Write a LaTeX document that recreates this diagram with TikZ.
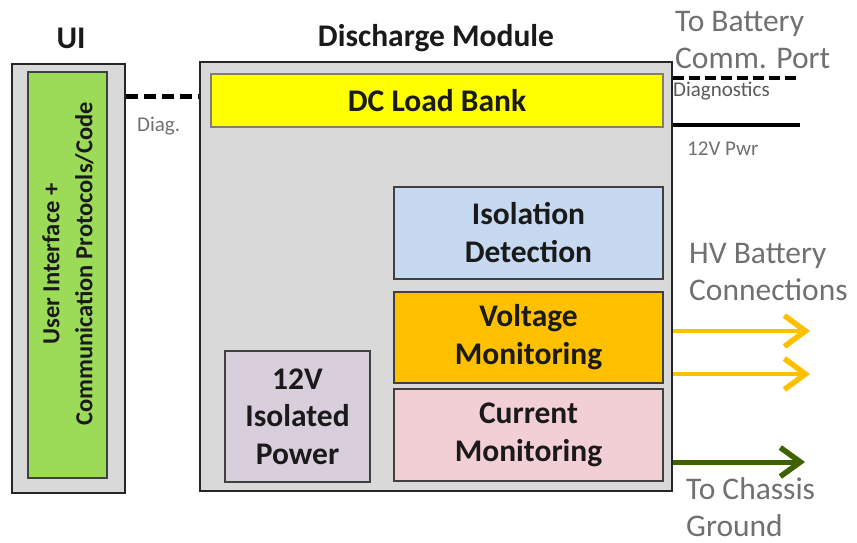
\documentclass[tikz,border=0pt]{standalone}
\usepackage{fontspec}
\setmainfont{Carlito}
\usetikzlibrary{arrows.meta,calc}
\definecolor{boxgray}{HTML}{D9D9D9}
\definecolor{uigreen}{HTML}{9CDB58}
\definecolor{loadyellow}{HTML}{FFFF00}
\definecolor{isoblue}{HTML}{C6D9F1}
\definecolor{voltorange}{HTML}{FFC000}
\definecolor{curpink}{HTML}{F2CFD4}
\definecolor{pwrlilac}{HTML}{D9CEDC}
\definecolor{labelgray}{HTML}{707070}
\definecolor{gndgreen}{HTML}{3F6100}
\definecolor{edgedark}{HTML}{262626}
\definecolor{edgemid}{HTML}{404040}
\definecolor{txtdark}{HTML}{1A1A1A}
\begin{document}
\begin{tikzpicture}[x=1pt,y=-1pt,
  outerbox/.style={draw=edgedark, line width=1.6pt, fill=boxgray, inner sep=0pt},
  innerbox/.style={draw=edgemid, line width=1.3pt, inner sep=0pt},
  boxtext/.style={font=\bfseries\fontsize{31.5}{38}\selectfont, text=txtdark, align=center, inner sep=0pt},
  title/.style={font=\bfseries\fontsize{31.5}{36}\selectfont, text=txtdark, inner sep=0pt},
  biglabel/.style={font=\fontsize{31.5}{37.5}\selectfont, text=labelgray, align=left, inner sep=0pt, anchor=west},
  smalllabel/.style={font=\fontsize{21}{24}\selectfont, text=labelgray, inner sep=0pt},
  dashline/.style={line width=5pt, dash pattern=on 12pt off 6pt},
  hvarrow/.style={voltorange, line width=4pt, -{Straight Barb[length=21pt, width=31pt, line width=5.5pt]}},
  gndarrow/.style={gndgreen, line width=5pt, -{Straight Barb[length=20pt, width=29pt, line width=5.5pt]}}
]
\useasboundingbox (0,0) rectangle (857,542);

% UI block
\node[outerbox, minimum width=113pt, minimum height=429pt] (ui) at (68.5,278.5) {};
\node[innerbox, fill=uigreen, minimum width=79pt, minimum height=406pt] (uiinner) at (67.5,275) {};
\node[font=\bfseries\fontsize{24.5}{33}\selectfont, text=txtdark, align=center, rotate=90, inner sep=0pt] (uitext) at (68,264) {User Interface +\\Communication Protocols/Code};
\node[title] (uilbl) at (71,38) {UI};

% Discharge module
\node[outerbox, minimum width=472pt, minimum height=429pt] (dm) at (436,276.5) {};
\node[title] (dmlbl) at (436,38) {Discharge Module};

\node[innerbox, draw=black!60!yellow!60!gray, fill=loadyellow, minimum width=452pt, minimum height=53pt] (dc) at (437,100.5) {};
\node[boxtext] (dctext) at (dc.center) {DC Load Bank};

\node[innerbox, fill=isoblue, minimum width=269pt, minimum height=92pt] (iso) at (528.5,233) {};
\node[boxtext] (isotext) at (iso.center) {Isolation\\Detection};

\node[innerbox, fill=voltorange, minimum width=269pt, minimum height=91pt] (volt) at (528.5,337.5) {};
\node[boxtext] (volttext) at (volt.center) {Voltage\\Monitoring};

\node[innerbox, fill=curpink, minimum width=269pt, minimum height=92pt] (cur) at (528.5,435) {};
\node[boxtext] (curtext) at (cur.center) {Current\\Monitoring};

\node[innerbox, fill=pwrlilac, minimum width=145pt, minimum height=131pt] (pwr) at (297.5,416.5) {};
\node[boxtext, font=\bfseries\fontsize{31.5}{37.5}\selectfont] (pwrtext) at (pwr.center) {12V\\Isolated\\Power};

% Diag link between UI and module
\coordinate (diagy) at (0,96);
\draw[dashline] (ui.east |- diagy) -- (dm.west |- diagy);
\node[smalllabel, anchor=west] (diaglbl) at (137,126) {Diag.};

% Right side: battery comm port
\coordinate (diagend) at (798,78);
\coordinate (pwrend) at (800,125);
\draw[line width=4pt, dash pattern=on 11pt off 5pt] (dm.east |- diagend) -- (diagend);
\draw[line width=4.5pt] (dm.east |- pwrend) -- (pwrend);
\node[smalllabel, text=black!65, anchor=west] (diagnlbl) at (673,91) {Diagnostics};
\node[smalllabel, anchor=west] (pwrlbl) at (687,149) {12V Pwr};
\node[biglabel] (battlbl) at (675,40) {To Battery\\Comm. Port};

% HV connections
\coordinate (hv1) at (810,331);
\coordinate (hv2) at (810,374);
\draw[hvarrow] (dm.east |- hv1) -- (hv1);
\draw[hvarrow] (dm.east |- hv2) -- (hv2);
\node[biglabel] (hvlbl) at (689,272) {HV Battery\\Connections};

% Chassis ground
\coordinate (gnd) at (805,462);
\draw[gndarrow] (dm.east |- gnd) -- (gnd);
\node[biglabel] (gndlbl) at (686,507) {To Chassis\\Ground};
\end{tikzpicture}
\end{document}
